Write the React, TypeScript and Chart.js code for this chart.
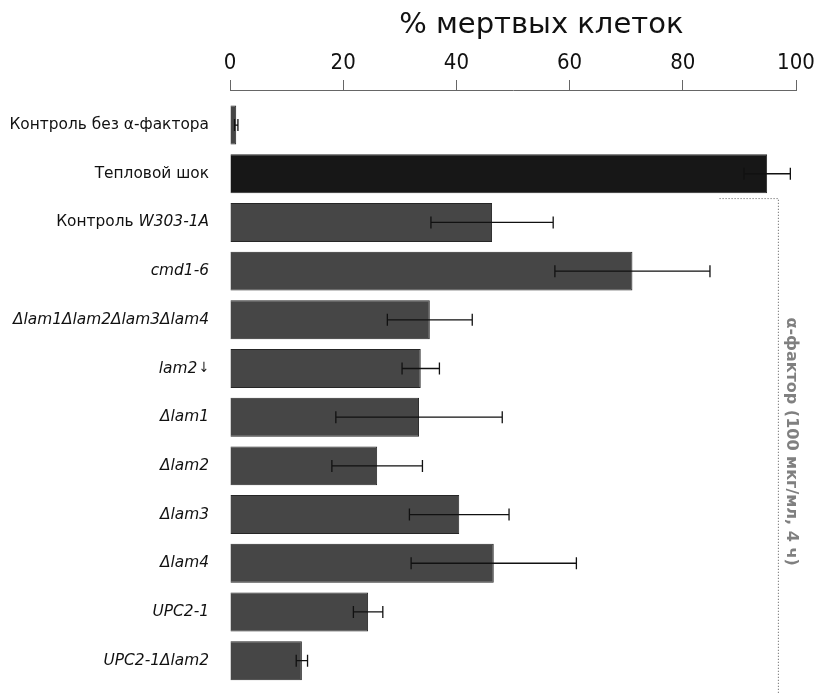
import React, { useEffect, useRef } from "react";
import { Chart, registerables } from "chart.js";

Chart.register(...registerables);

// Strain / condition names; parts wrapped in *...* are set in italics.
const categories = [
  "Контроль без α-фактора",
  "Тепловой шок",
  "Контроль *W303-1A*",
  "*cmd1-6*",
  "*Δlam1Δlam2Δlam3Δlam4*",
  "*lam2*\u200a↓",
  "*Δlam1*",
  "*Δlam2*",
  "*Δlam3*",
  "*Δlam4*",
  "*UPC2-1*",
  "*UPC2-1Δlam2*",
];

// Mean share of dead cells, % and its spread (±)
const deadPercent = [1.1, 94.9, 46.3, 71.1, 35.3, 33.7, 33.4, 26.0, 40.5, 46.6, 24.4, 12.7];
const errorPercent = [0.3, 4.1, 10.8, 13.7, 7.5, 3.3, 14.7, 8.0, 8.8, 14.6, 2.6, 1.0];

const xTicks = [0, 20, 40, 60, 80, 100];
const axisTitle = "% мертвых клеток";
const treatmentNote = "α-фактор (100 мкг/мл, 4 ч)";

// Rows treated with α-factor: from "Контроль W303-1A" to the last one.
const firstTreatedRow = 2;

const BAR_FILL = "#464646";
const HEAT_FILL = "#171717";

const labelFont = (italic: boolean, text: string) => {
  if (text.includes("↓")) return '14px "DejaVu Sans Condensed", "DejaVu Sans", sans-serif';
  return `${italic ? "italic " : ""}15.4px "DejaVu Sans", sans-serif`;
};

function parseLabel(label: string): { text: string; italic: boolean }[] {
  return label
    .split("*")
    .map((text, i) => ({ text, italic: i % 2 === 1 }))
    .filter((p) => p.text.length > 0);
}

const decorations = {
  id: "decorations",
  afterDatasetsDraw(chart: any) {
    const { ctx, chartArea, scales } = chart;
    const xs = scales.x;
    const ys = scales.y;

    ctx.save();

    // error bars
    ctx.strokeStyle = "#111";
    ctx.lineWidth = 1.3;
    const cap = 6;
    deadPercent.forEach((v, i) => {
      const e = errorPercent[i];
      const y = ys.getPixelForValue(i);
      const x0 = xs.getPixelForValue(v - e);
      const x1 = xs.getPixelForValue(v + e);
      ctx.beginPath();
      ctx.moveTo(x0, y);
      ctx.lineTo(x1, y);
      ctx.moveTo(x0, y - cap);
      ctx.lineTo(x0, y + cap);
      ctx.moveTo(x1, y - cap);
      ctx.lineTo(x1, y + cap);
      ctx.stroke();
    });

    // category labels with mixed upright / italic parts
    ctx.fillStyle = "#111";
    ctx.textBaseline = "middle";
    ctx.textAlign = "left";
    const rightEdge = chartArea.left - 21;
    categories.forEach((label, i) => {
      const parts = parseLabel(label);
      let total = 0;
      parts.forEach((p) => {
        ctx.font = labelFont(p.italic, p.text);
        total += ctx.measureText(p.text).width;
      });
      let x = rightEdge - total;
      const y = ys.getPixelForValue(i);
      parts.forEach((p) => {
        ctx.font = labelFont(p.italic, p.text);
        ctx.fillText(p.text, x, y);
        x += ctx.measureText(p.text).width;
      });
    });

    // axis title above the tick labels
    ctx.font = '29px "DejaVu Sans", sans-serif';
    ctx.textAlign = "center";
    ctx.textBaseline = "alphabetic";
    ctx.fillStyle = "#111";
    ctx.fillText(axisTitle, xs.getPixelForValue(55), 33);

    // dotted bracket around the α-factor group
    const bracketTop = ys.getPixelForValue(firstTreatedRow - 0.5);
    const bracketLeft = xs.getPixelForValue(86.5);
    const bracketX = xs.getPixelForValue(96.8);
    const bracketBottom = chart.height;
    ctx.strokeStyle = "#555";
    ctx.lineWidth = 1;
    ctx.setLineDash([1, 2]);
    ctx.beginPath();
    ctx.moveTo(bracketLeft, bracketTop + 0.5);
    ctx.lineTo(bracketX + 0.5, bracketTop + 0.5);
    ctx.lineTo(bracketX + 0.5, bracketBottom);
    ctx.stroke();
    ctx.setLineDash([]);

    // rotated group caption
    ctx.translate(bracketX + 13, (bracketTop + chartArea.bottom) / 2);
    ctx.rotate(Math.PI / 2);
    ctx.font = 'bold 16px "DejaVu Sans", sans-serif';
    ctx.fillStyle = "#808080";
    ctx.textAlign = "center";
    ctx.textBaseline = "middle";
    ctx.fillText(treatmentNote, 0, 0);

    ctx.restore();
  },
};

export default function App() {
  const canvasRef = useRef<HTMLCanvasElement | null>(null);

  useEffect(() => {
    const canvas = canvasRef.current;
    if (!canvas) return;

    const chart = new Chart(canvas, {
      type: "bar",
      data: {
        datasets: [
          {
            data: deadPercent.map((v, i) => ({ x: v, y: i })),
            backgroundColor: deadPercent.map((_, i) => (i === 1 ? HEAT_FILL : BAR_FILL)),
            borderColor: "#262626",
            borderWidth: 1,
            barPercentage: 0.8,
            categoryPercentage: 1,
          },
        ],
      },
      options: {
        indexAxis: "y",
        responsive: false,
        animation: false,
        devicePixelRatio: 1,
        layout: { padding: { left: 230, right: 23, top: 0, bottom: 9 } },
        plugins: {
          legend: { display: false },
          tooltip: { enabled: false },
        },
        scales: {
          x: {
            type: "linear",
            position: "top",
            min: 0,
            max: 100,
            afterBuildTicks: (s: any) => {
              s.ticks = xTicks.map((v) => ({ value: v }));
            },
            afterFit: (s: any) => {
              s.height = 90;
              s.paddingLeft = 0;
              s.paddingRight = 0;
            },
            ticks: {
              color: "#111",
              padding: 4,
              font: { family: '"DejaVu Sans Condensed", "DejaVu Sans", sans-serif', size: 22 },
            },
            grid: {
              drawOnChartArea: false,
              drawTicks: true,
              tickLength: 10,
              color: "#666",
            },
            border: { display: true, color: "#666", width: 1 },
          },
          y: {
            type: "linear",
            display: false,
            offset: false,
            grace: 0,
            reverse: true,
            min: -0.72,
            max: 11.5,
            afterBuildTicks: (s: any) => {
              s.ticks = categories.map((_, i) => ({ value: i }));
            },
          },
        },
      },
      plugins: [decorations],
    });

    return () => chart.destroy();
  }, []);

  return (
    <div style={{ position: "absolute", left: 0, top: 0, width: 819, height: 694, background: "#fff" }}>
      <canvas ref={canvasRef} width={819} height={694} style={{ display: "block" }} />
    </div>
  );
}
